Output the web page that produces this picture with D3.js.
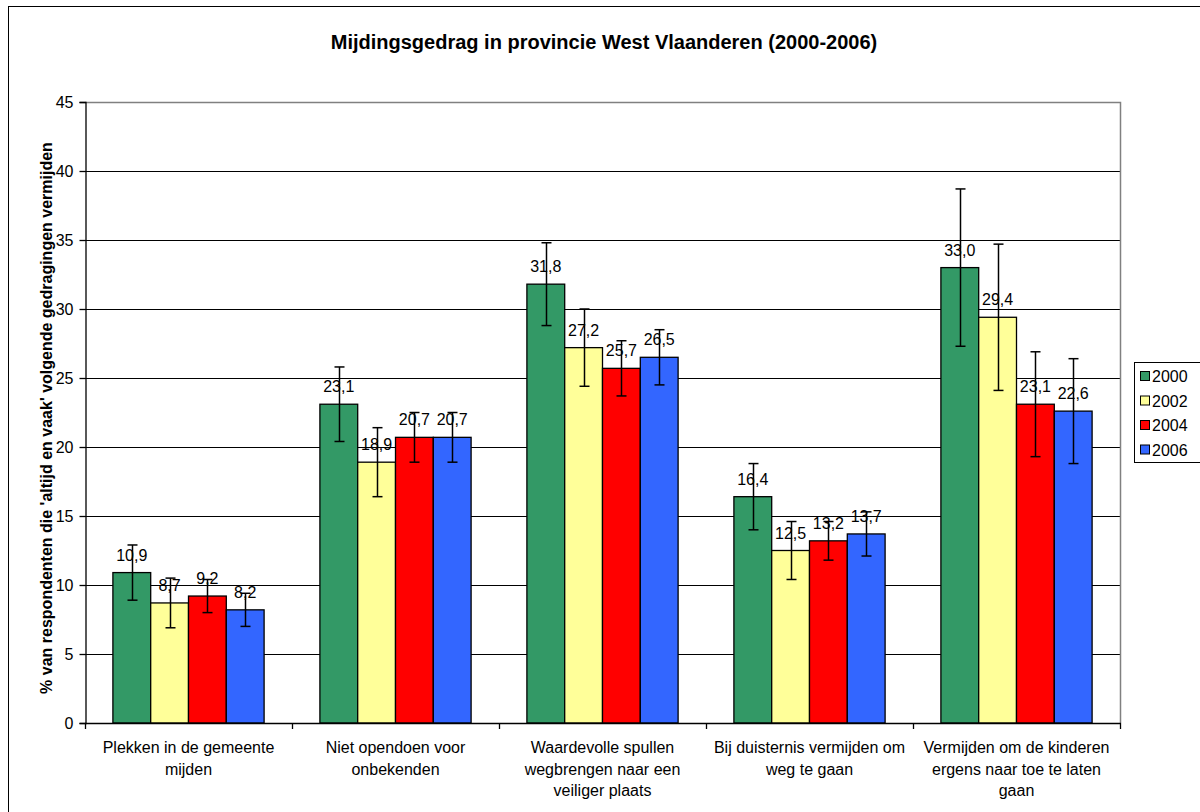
<!DOCTYPE html>
<html><head><meta charset="utf-8">
<script src="https://cdn.jsdelivr.net/npm/d3@7"></script>
<style>body{margin:0;background:#fff;}svg{display:block;font-family:"Liberation Sans",Arial,sans-serif;}</style>
</head><body>
<svg id="c" width="1200" height="812"></svg>
<script>
const categories = [
  ["Plekken in de gemeente","mijden"],
  ["Niet opendoen voor","onbekenden"],
  ["Waardevolle spullen","wegbrengen naar een","veiliger plaats"],
  ["Bij duisternis vermijden om","weg te gaan"],
  ["Vermijden om de kinderen","ergens naar toe te laten","gaan"]
];
const years = ["2000","2002","2004","2006"];
const colors = ["#339966","#FFFF99","#FF0000","#3366FF"];
const values2000 = [10.9, 23.1, 31.8, 16.4, 33.0];
const values2002 = [8.7, 18.9, 27.2, 12.5, 29.4];
const values2004 = [9.2, 20.7, 25.7, 13.2, 23.1];
const values2006 = [8.2, 20.7, 26.5, 13.7, 22.6];
const err2000 = [2.0, 2.7, 3.0, 2.4, 5.7];
const err2002 = [1.8, 2.5, 2.8, 2.1, 5.3];
const err2004 = [1.2, 1.8, 2.0, 1.4, 3.8];
const err2006 = [1.2, 1.8, 2.0, 1.6, 3.8];
const yTicks = [0,5,10,15,20,25,30,35,40,45];
const title = "Mijdingsgedrag in provincie West Vlaanderen (2000-2006)";
const yLabel = "% van respondenten die 'altijd en vaak' volgende gedragingen vermijden";

const series = [values2000, values2002, values2004, values2006];
const errors = [err2000, err2002, err2004, err2006];

const svg = d3.select("#c");
const L = 85, R = 1120, T = 102, B = 723;
const FS = 16;

// outer chart border
svg.append("rect").attr("x",8.5).attr("y",6.5).attr("width",1200).attr("height",820)
  .attr("fill","none").attr("stroke","#000").attr("stroke-width",1);

const x0 = d3.scaleBand().domain(d3.range(categories.length)).range([L,R]).paddingInner(0).paddingOuter(0);
const x1 = d3.scaleBand().domain(d3.range(years.length)).range([0,x0.bandwidth()]).paddingInner(0).paddingOuter(0.738);
const y = d3.scaleLinear().domain([0,45]).range([B,T]);

// gridlines
svg.append("g").selectAll("line").data(yTicks.filter(t=>t>0 && t<45)).join("line")
  .attr("x1",L).attr("x2",R).attr("y1",d=>Math.round(y(d))+0.5).attr("y2",d=>Math.round(y(d))+0.5)
  .attr("stroke","#000").attr("stroke-width",1);
// plot border top/right
svg.append("path").attr("d",`M${L},${T+0.5}H${R+0.5}V${B}`).attr("fill","none").attr("stroke","#808080").attr("stroke-width",1.5);

// bars
const gBars = svg.append("g");
categories.forEach((c,i)=>{
  series.forEach((s,j)=>{
    const bx = x0(i)+x1(j);
    gBars.append("rect").attr("x",bx).attr("y",y(s[i])).attr("width",x1.bandwidth()).attr("height",y(0)-y(s[i]))
      .attr("fill",colors[j]).attr("stroke","#000").attr("stroke-width",1.3);
  });
});
// labels
categories.forEach((c,i)=>{
  series.forEach((s,j)=>{
    const cx = x0(i)+x1(j)+x1.bandwidth()/2;
    svg.append("text").attr("x",cx).attr("y",y(s[i])-12).attr("text-anchor","middle")
      .attr("font-size",FS).attr("fill","#000").text(s[i].toFixed(1).replace(".",","));
  });
});
// error bars
categories.forEach((c,i)=>{
  series.forEach((s,j)=>{
    const cx = Math.round(x0(i)+x1(j)+x1.bandwidth()/2)+0.5;
    const hi = y(s[i]+errors[j][i]), lo = y(s[i]-errors[j][i]);
    const g = svg.append("g").attr("stroke","#000").attr("stroke-width",1.5);
    g.append("line").attr("x1",cx).attr("x2",cx).attr("y1",hi).attr("y2",lo);
    g.append("line").attr("x1",cx-5).attr("x2",cx+5).attr("y1",hi).attr("y2",hi);
    g.append("line").attr("x1",cx-5).attr("x2",cx+5).attr("y1",lo).attr("y2",lo);
  });
});

// y axis
const yAxis = d3.axisLeft(y).tickValues(yTicks).tickSize(6).tickPadding(6).tickFormat(d=>d);
const ya = svg.append("g").attr("transform",`translate(${L+0.5},0)`).call(yAxis);
ya.selectAll("text").attr("font-size",FS).attr("font-family","Liberation Sans, Arial, sans-serif").attr("fill","#000");
ya.selectAll("line,path").attr("stroke","#000").attr("stroke-width",1.3);

// x axis
const xa = svg.append("g");
xa.append("line").attr("x1",L).attr("x2",R+1).attr("y1",B+0.5).attr("y2",B+0.5).attr("stroke","#000").attr("stroke-width",1.5);
d3.range(categories.length+1).forEach(k=>{
  const tx = Math.round(L + k*x0.step())+0.5;
  xa.append("line").attr("x1",tx).attr("x2",tx).attr("y1",B).attr("y2",B+6).attr("stroke","#000").attr("stroke-width",1.3);
});
categories.forEach((c,i)=>{
  const t = xa.append("text").attr("text-anchor","middle").attr("font-size",FS).attr("fill","#000");
  c.forEach((line,k)=>{
    t.append("tspan").attr("x",x0(i)+x0.bandwidth()/2).attr("y",753+k*21.5).text(line);
  });
});

// title
svg.append("text").attr("x",604).attr("y",49).attr("text-anchor","middle").attr("font-size",20)
  .attr("font-weight","bold").text(title);
// y label
svg.append("text").attr("transform","translate(52,418) rotate(-90)").attr("text-anchor","middle")
  .attr("font-size",16).attr("font-weight","bold").text(yLabel);

// legend
const lg = svg.append("g");
lg.append("rect").attr("x",1134.5).attr("y",362.5).attr("width",70).attr("height",100)
  .attr("fill","#fff").attr("stroke","#000").attr("stroke-width",1);
years.forEach((yr,j)=>{
  const cy = 376 + j*24.5;
  lg.append("rect").attr("x",1140.5).attr("y",cy-4.5).attr("width",9).attr("height",9)
    .attr("fill",colors[j]).attr("stroke","#000").attr("stroke-width",1);
  lg.append("text").attr("x",1152).attr("y",cy+6).attr("font-size",FS).text(yr);
});
</script>
</body></html>
